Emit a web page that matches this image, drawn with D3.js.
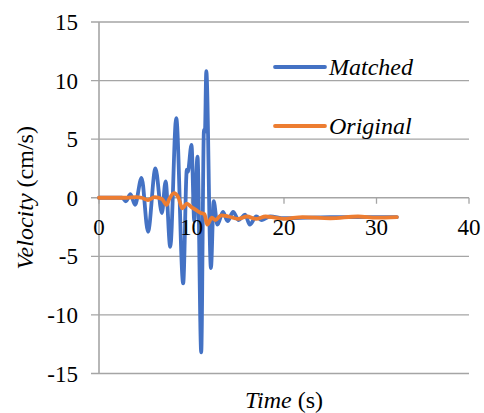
<!DOCTYPE html>
<html>
<head>
<meta charset="utf-8">
<script src="https://cdn.jsdelivr.net/npm/d3@7"></script>
</head>
<body style="margin:0">
<svg id="drawing_region" width="484" height="413"></svg>
<script>
// Matched record (time s, velocity cm/s)
const time_matched = [0, 2.5, 2.9, 3.4, 3.9, 4.6, 5.3, 6.1, 6.8, 7.2, 7.7, 8.35, 9.1, 9.5, 9.6, 10.0, 10.3, 10.65, 11.05, 11.35, 11.45, 11.6, 12.1, 12.4, 12.8, 13.4, 13.9, 14.5, 15.1, 15.8, 16.3, 17.0, 17.6, 18.5, 20, 25, 32.2];
const vel_matched  = [0, 0, -0.3, 0.3, -0.6, 1.7, -2.9, 2.5, -1.3, 1.4, -4.2, 6.8, -7.3, 2.4, 2.2, 4.5, -2.0, 3.5, -13.2, 5.8, 5.6, 10.8, -6.0, -0.3, -2.3, -1.2, -2.0, -1.2, -1.9, -1.45, -2.3, -1.6, -1.9, -1.6, -1.75, -1.65, -1.65];

// Original record
const time_original = [0, 3, 4, 4.6, 5.3, 6, 6.8, 7.3, 7.6, 8.1, 8.6, 9.0, 9.5, 10, 10.4, 11, 11.4, 11.7, 12.2, 12.6, 13.2, 14, 15, 16, 17, 18, 19, 20, 22, 25, 28, 30, 32.2];
const vel_original  = [0, 0, 0.05, 0, -0.2, 0.05, -0.1, -0.6, -0.1, 0.4, 0, -0.9, -0.5, -0.8, -1.0, -1.3, -1.4, -2.3, -1.7, -1.9, -1.5, -1.6, -1.8, -1.6, -1.8, -1.6, -1.7, -1.8, -1.65, -1.75, -1.6, -1.7, -1.65];

const x_ticks = [0, 10, 20, 30, 40];
const y_ticks = [-15, -10, -5, 0, 5, 10, 15];
const series_names = ['Matched', 'Original'];
const series_colors = ['#4472C4', '#ED7D31'];

class LineChart {

    constructor(config, data) {
        this.config = config;
        this.data = data;
        this.init();
    }

    init() {
        let self = this;
        self.svg = d3.select(self.config.parent);

        self.chart = self.svg.append('g')
            .attr('transform', `translate(${self.config.margin.left}, ${self.config.margin.top})`);

        self.inner_width = self.config.width - self.config.margin.left - self.config.margin.right;
        self.inner_height = self.config.height - self.config.margin.top - self.config.margin.bottom;

        self.xscale = d3.scaleLinear().domain([0, 40]).range([0, self.inner_width]);
        self.yscale = d3.scaleLinear().domain([-15, 15]).range([self.inner_height, 0]);
    }

    render() {
        let self = this;
        const grid = '#a5a5a5';

        // horizontal gridlines (they stick out a little on the left like ticks)
        self.chart.selectAll('.grid')
            .data(y_ticks)
            .join('line')
            .attr('class', 'grid')
            .attr('x1', -8)
            .attr('x2', self.inner_width)
            .attr('y1', d => self.yscale(d))
            .attr('y2', d => self.yscale(d))
            .attr('stroke', grid)
            .attr('stroke-width', 1.3);

        // vertical axis line
        self.chart.append('line')
            .attr('x1', 0).attr('x2', 0)
            .attr('y1', self.yscale(15)).attr('y2', self.yscale(-15))
            .attr('stroke', grid)
            .attr('stroke-width', 1.6);

        // x ticks on the zero line
        const y0 = self.yscale(0);
        self.chart.selectAll('.xtick')
            .data(x_ticks)
            .join('line')
            .attr('class', 'xtick')
            .attr('x1', d => self.xscale(d)).attr('x2', d => self.xscale(d))
            .attr('y1', y0).attr('y2', y0 + 6)
            .attr('stroke', grid)
            .attr('stroke-width', 1.3);

        // series
        const line = d3.line()
            .x(d => self.xscale(d.t))
            .y(d => self.yscale(d.v))
            .curve(d3.curveMonotoneX);

        self.chart.selectAll('.series')
            .data(self.data)
            .join('path')
            .attr('class', 'series')
            .attr('d', d => line(d.values))
            .attr('fill', 'none')
            .attr('stroke', d => d.color)
            .attr('stroke-width', 3.8)
            .attr('stroke-linejoin', 'round')
            .attr('stroke-linecap', 'round');

        // y tick labels
        self.chart.selectAll('.ylabel')
            .data(y_ticks)
            .join('text')
            .attr('class', 'ylabel')
            .attr('x', -21)
            .attr('y', d => self.yscale(d) + 8)
            .attr('text-anchor', 'end')
            .style('font-family', 'serif')
            .style('font-size', '23px')
            .text(d => d);

        // x tick labels
        self.chart.selectAll('.xlabel')
            .data(x_ticks)
            .join('text')
            .attr('class', 'xlabel')
            .attr('x', d => self.xscale(d))
            .attr('y', y0 + 37)
            .attr('text-anchor', 'middle')
            .style('font-family', 'serif')
            .style('font-size', '23px')
            .text(d => d);

        // axis titles
        const xt = self.chart.append('text')
            .attr('x', self.inner_width / 2)
            .attr('y', self.inner_height + 34)
            .attr('text-anchor', 'middle')
            .style('font-family', 'serif')
            .style('font-size', '24px');
        xt.append('tspan').style('font-style', 'italic').text('Time');
        xt.append('tspan').text(' (s)');

        const yt = self.svg.append('text')
            .attr('transform', `translate(33, ${self.config.margin.top + self.inner_height / 2}) rotate(-90)`)
            .attr('text-anchor', 'middle')
            .style('font-family', 'serif')
            .style('font-size', '24px');
        yt.append('tspan').style('font-style', 'italic').text('Velocity');
        yt.append('tspan').text(' (cm/s)');

        // legend
        const legend = self.chart.selectAll('.legend')
            .data(self.data)
            .join('g')
            .attr('class', 'legend')
            .attr('transform', (d, i) => `translate(176, ${45 + i * 59})`);

        legend.append('line')
            .attr('x1', 0).attr('x2', 50)
            .attr('stroke', d => d.color)
            .attr('stroke-width', 3.8)
            .attr('stroke-linecap', 'round');

        legend.append('text')
            .attr('x', 54)
            .attr('y', 8)
            .style('font-family', 'serif')
            .style('font-size', '24px')
            .style('font-style', 'italic')
            .text(d => d.name);
    }
}

const series = [
    { name: series_names[0], color: series_colors[0], values: time_matched.map((t, i) => ({ t: t, v: vel_matched[i] })) },
    { name: series_names[1], color: series_colors[1], values: time_original.map((t, i) => ({ t: t, v: vel_original[i] })) }
];

var config = {
    parent: '#drawing_region',
    width: 484,
    height: 413,
    margin: {top: 22, right: 15, bottom: 39.5, left: 99}
};

const chart = new LineChart(config, series);
chart.render();
</script>
</body>
</html>
